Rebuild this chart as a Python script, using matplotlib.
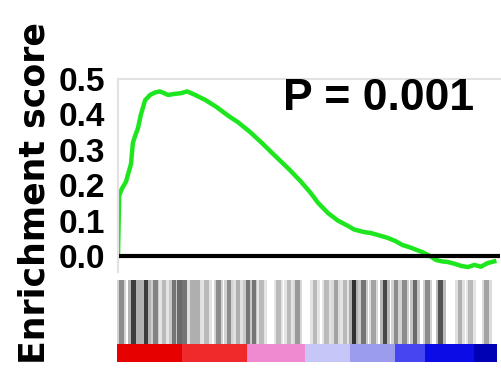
import numpy as np
import matplotlib
matplotlib.use('Agg')
import matplotlib.pyplot as plt

# Running enrichment score (rank fraction, ES)
rank = [0.000, 0.003, 0.010, 0.021, 0.026, 0.034, 0.039, 0.045, 0.052, 0.060,
        0.071, 0.084, 0.097, 0.110, 0.131, 0.149, 0.165, 0.181, 0.202, 0.230,
        0.259, 0.290, 0.314, 0.346, 0.377, 0.414, 0.448, 0.479, 0.503, 0.524,
        0.550, 0.576, 0.602, 0.618, 0.643, 0.662, 0.685, 0.707, 0.727, 0.745,
        0.763, 0.780, 0.797, 0.817, 0.832, 0.848, 0.864, 0.882, 0.899, 0.916,
        0.933, 0.950, 0.967, 0.985]
es = [0.000, 0.170, 0.190, 0.210, 0.230, 0.260, 0.320, 0.340, 0.360, 0.400,
      0.440, 0.455, 0.462, 0.465, 0.455, 0.458, 0.460, 0.465, 0.455, 0.440,
      0.420, 0.395, 0.378, 0.350, 0.319, 0.280, 0.245, 0.210, 0.180, 0.150,
      0.121, 0.100, 0.085, 0.075, 0.068, 0.065, 0.058, 0.051, 0.042, 0.031,
      0.025, 0.018, 0.011, 0.000, -0.011, -0.015, -0.017, -0.022, -0.028,
      -0.031, -0.025, -0.030, -0.020, -0.015]

# Gene hits (rank fraction, darkness)
hit_pos = [0.012, 0.043, 0.056, 0.076, 0.102, 0.124, 0.150, 0.164, 0.178,
           0.198, 0.212, 0.236, 0.267, 0.295, 0.319, 0.345, 0.360, 0.381,
           0.425, 0.453, 0.475, 0.521, 0.552, 0.576, 0.600, 0.624, 0.648,
           0.675, 0.705, 0.734, 0.756, 0.784, 0.817, 0.852, 0.903, 0.931, 0.973]
hit_dark = [0.5, 0.85, 0.35, 0.85, 0.55, 0.3, 0.6, 0.65, 0.6,
            0.35, 0.35, 0.3, 0.5, 0.5, 0.35, 0.6, 0.6, 0.3,
            0.3, 0.3, 0.45, 0.3, 0.3, 0.4, 0.3, 0.9, 0.6,
            0.4, 0.8, 0.5, 0.5, 0.65, 0.5, 0.75, 0.35, 0.3, 0.4]

# Ranked list colour strip
strip_edges = [0, 0.17, 0.341, 0.495, 0.613, 0.732, 0.811, 0.94, 1.0]
strip_colors = ['#e60000', '#f02a2a', '#f08ad0', '#c6c6f8', '#9c9cec',
                '#4646f0', '#0c0ce6', '#0000b4']

yticks = [0.0, 0.1, 0.2, 0.3, 0.4, 0.5]

W, H = 502, 377
fig = plt.figure(figsize=(W/100, H/100), dpi=100)

# main enrichment plot
ax = fig.add_axes([118/W, 1-272/H, 382/W, 193/H])
ax.plot(rank, es, color='#1ee61e', lw=3.2, solid_joinstyle='round')
ax.axhline(0, color='black', lw=3)
ax.set_xlim(0, 1)
ax.set_ylim(-0.045, 0.5)
ax.set_xticks([])
ax.set_yticks(yticks)
ax.set_yticklabels([f'{v:.1f}' for v in yticks],
                   fontfamily='Liberation Sans', fontweight='bold', fontsize=24)
ax.tick_params(axis='y', length=0, pad=9)
for s in ['right', 'bottom']:
    ax.spines[s].set_visible(False)
for s in ['top', 'left']:
    ax.spines[s].set_color('#e2e2e2')
    ax.spines[s].set_linewidth(1.5)
ax.text(0.683, 0.839, 'P = 0.001', transform=ax.transAxes, ha='center',
        va='baseline', fontfamily='Liberation Sans', fontweight='bold',
        fontsize=32)

# hits + colour strip
bx = fig.add_axes([117/W, 1-362/H, 380/W, 84/H])
lefts = strip_edges[:-1]
widths = np.diff(strip_edges)
bx.bar(lefts, 0.22, width=widths, bottom=0, align='edge', color=strip_colors,
       linewidth=0)
# soft halo under each hit, then the hit itself
halo = [(1-0.35*d, 1-0.35*d, 1-0.35*d) for d in hit_dark]
grays = [(1-0.9*d, 1-0.9*d, 1-0.9*d) for d in hit_dark]
bx.bar(hit_pos, 0.76, width=0.026, bottom=0.22, color=halo, linewidth=0)
bx.bar(hit_pos, 0.76, width=0.012, bottom=0.22, color=grays, linewidth=0)
bx.set_xlim(0, 1)
bx.set_ylim(0, 1)
bx.axis('off')

fig.text(35/W, 1-193/H, 'Enrichment score', rotation=90, ha='center',
         va='center', fontfamily='DejaVu Sans', fontweight='bold', fontsize=25)

fig.savefig('out.png', dpi=100)
